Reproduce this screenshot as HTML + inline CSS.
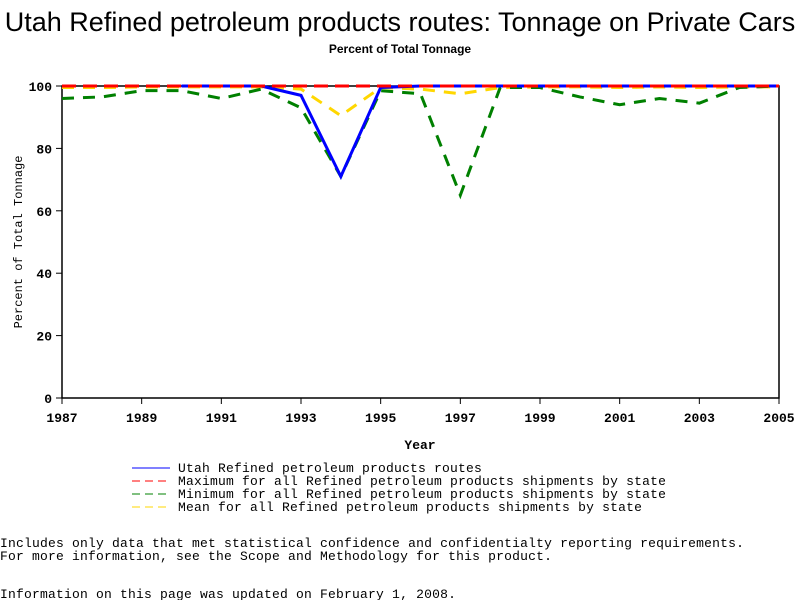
<!DOCTYPE html>
<html><head><meta charset="utf-8"><style>
body{margin:0;background:#fff;width:800px;height:600px;overflow:hidden}
svg text{font-family:"Liberation Mono",monospace}
</style></head><body>
<svg width="800" height="600" xmlns="http://www.w3.org/2000/svg">
<text x="400" y="31" text-anchor="middle" font-size="27" style="font-family:'Liberation Sans',sans-serif">Utah Refined petroleum products routes: Tonnage on Private Cars</text>
<text x="400" y="53" text-anchor="middle" font-size="12" font-weight="bold" style="font-family:'Liberation Sans',sans-serif">Percent of Total Tonnage</text>
<g id="axes"></g>
<g id="series"></g>
<text x="420" y="449" text-anchor="middle" font-size="13" font-weight="bold">Year</text>
<text transform="translate(22,242) rotate(-90)" text-anchor="middle" font-size="12">Percent of Total Tonnage</text>
<g font-size="13" letter-spacing="0.2">
<line x1="132" y1="468" x2="170" y2="468" stroke="#0000ff" stroke-width="1"/>
<text x="178" y="472">Utah Refined petroleum products routes</text>
<line x1="132" y1="481" x2="170" y2="481" stroke="#ff0000" stroke-dasharray="8,5"/>
<text x="178" y="485">Maximum for all Refined petroleum products shipments by state</text>
<line x1="132" y1="494" x2="170" y2="494" stroke="#008000" stroke-dasharray="8,5"/>
<text x="178" y="498">Minimum for all Refined petroleum products shipments by state</text>
<line x1="132" y1="507" x2="170" y2="507" stroke="#ffd700" stroke-dasharray="8,5"/>
<text x="178" y="511">Mean for all Refined petroleum products shipments by state</text>
</g>
<g font-size="13" letter-spacing="0.2">
<text x="0" y="547">Includes only data that met statistical confidence and confidentialty reporting requirements.</text>
<text x="0" y="560">For more information, see the Scope and Methodology for this product.</text>
<text x="0" y="598">Information on this page was updated on February 1, 2008.</text>
</g>
</svg>
<script>
const years=[1987,1988,1989,1990,1991,1992,1993,1994,1995,1996,1997,1998,1999,2000,2001,2002,2003,2004,2005];
const utahVals=[null,null,null,100,100,100,97,71,99.5,100,100,100,100,100,100,100,100,100,100];
const maxVals=[100,100,100,100,100,100,100,100,100,100,100,100,100,100,100,100,100,100,100];
const minVals=[96,96.5,98.5,98.5,96,99,93,71,98.5,97.5,65,99.5,99.5,96.5,94,96,94.5,99.5,100];
const meanVals=[99.5,99.5,99.7,99.7,99.7,99.7,99,90.5,99.5,99,97.5,99.5,99.7,99.7,99.5,99.7,99.5,99.7,99.7];
const yTicks=[0,20,40,60,80,100];
const xTicks=[1987,1989,1991,1993,1995,1997,1999,2001,2003,2005];
const X0=62,X1=779,Y0=398,Y1=86;
const sx=v=>X0+(v-1987)/(2005-1987)*(X1-X0);
const sy=v=>Y0-v/100*(Y0-Y1);
const NS="http://www.w3.org/2000/svg";
function mk(t,a,p){const e=document.createElementNS(NS,t);for(const k in a)e.setAttribute(k,a[k]);p.appendChild(e);return e;}
const ax=document.getElementById('axes');
const frame=mk('rect',{x:X0,y:Y1,width:X1-X0,height:Y0-Y1,fill:'none',stroke:'#000','stroke-width':1.5},ax);


yTicks.forEach(v=>{
 const l=mk('line',{x1:X0-6,x2:X0,y1:sy(v),y2:sy(v),stroke:'#000'},ax);
 
 
 const t=mk('text',{x:X0-10,y:sy(v)+5,'text-anchor':'end','font-size':13,'font-weight':'bold'},ax);t.textContent=v;
 
 
});
xTicks.forEach(v=>{
 const l=mk('line',{x1:sx(v),x2:sx(v),y1:Y0,y2:Y0+6,stroke:'#000'},ax);
 
 
 const t=mk('text',{x:sx(v),y:Y0+24,'text-anchor':'middle','font-size':13,'font-weight':'bold'},ax);t.textContent=v;
 
 
});
const sg=document.getElementById('series');
function line(vals,color,dash,name){
 let d='',pen=false;
 vals.forEach((v,i)=>{if(v==null){pen=false;return;}d+=(pen?'L':'M')+sx(years[i])+','+sy(v);pen=true;});
 const p=mk('path',{d:d,fill:'none',stroke:color,'stroke-width':3,'stroke-dasharray':dash||'none'},sg);
 
 
}
line(meanVals,'#ffd700','12,9','mean-line');
line(minVals,'#008000','12,9','min-line');
line(utahVals,'#0000ff',null,'utah-line');
line(maxVals,'#ff0000','14,7','max-line');
</script>
</body></html>
